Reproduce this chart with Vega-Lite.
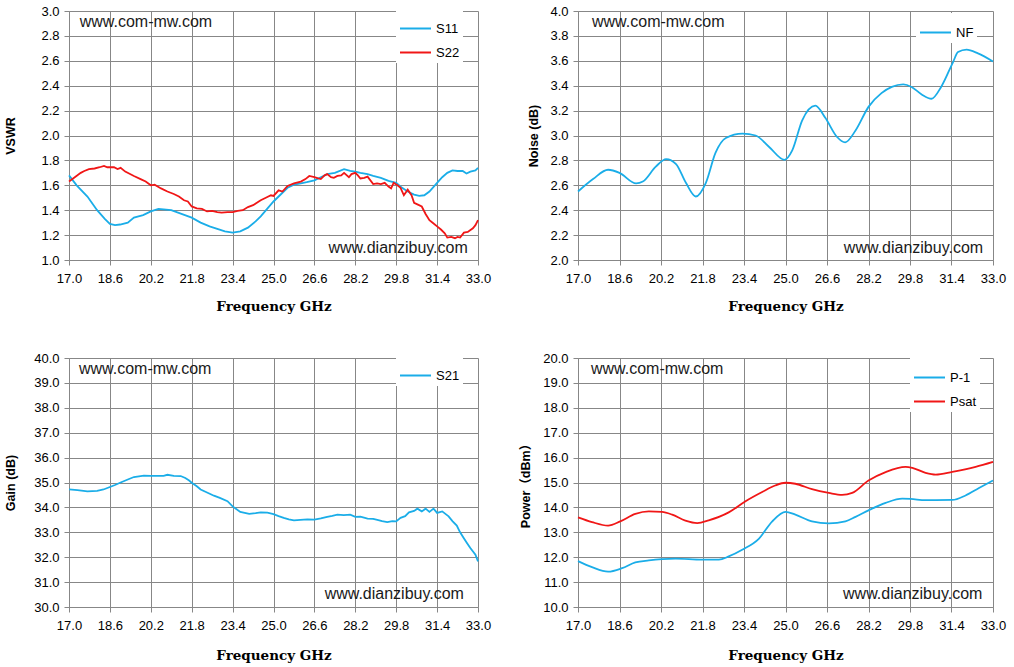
{
  "$schema": "https://vega.github.io/schema/vega-lite/v6.json",
  "padding": {"left": 4, "top": 5, "right": 4, "bottom": 2},
  "background": "white",
  "columns": 2,
  "spacing": {"row": 39, "column": 28},
  "resolve": {"scale": {"color": "independent"}, "legend": {"color": "independent"}},
  "config": {
    "view": {"stroke": null},
    "axis": {
      "gridColor": "#878787",
      "gridOpacity": 1,
      "gridWidth": 1,
      "domainColor": "#878787",
      "tickColor": "#878787",
      "tickSize": 5,
      "tickCount": 12,
      "labelFont": "Liberation Sans",
      "labelFontSize": 13,
      "labelColor": "#000000",
      "labelOverlap": false,
      "labelFlush": false,
      "titleColor": "#000000"
    },
    "axisX": {
      "labelPadding": 7,
      "titleFont": "DejaVu Serif",
      "titleFontSize": 13.5,
      "titleFontWeight": "bold",
      "titlePadding": 14
    },
    "axisY": {
      "labelPadding": 5,
      "titleFont": "Liberation Sans, Noto Sans CJK SC",
      "titleFontSize": 12.5,
      "titleFontWeight": "bold"
    },
    "legend": {
      "orient": "none",
      "title": null,
      "fillColor": "white",
      "padding": 3,
      "symbolType": "stroke",
      "symbolSize": 960,
      "symbolStrokeWidth": 2,
      "labelFont": "Liberation Sans",
      "labelFontSize": 13,
      "labelColor": "#000000",
      "labelOffset": 4,
      "rowPadding": -7
    },
    "text": {"font": "Liberation Sans", "fontSize": 16, "color": "#1a1a1a"}
  },
  "datasets": {
    "vswr": [
      {"f": 17.0, "v": 1.68, "s": "S11"}, {"f": 17.3, "v": 1.6, "s": "S11"}, {"f": 17.72, "v": 1.51, "s": "S11"},
      {"f": 18.1, "v": 1.4, "s": "S11"}, {"f": 18.4, "v": 1.33, "s": "S11"}, {"f": 18.6, "v": 1.29, "s": "S11"},
      {"f": 18.8, "v": 1.28, "s": "S11"}, {"f": 19.0, "v": 1.285, "s": "S11"}, {"f": 19.3, "v": 1.3, "s": "S11"},
      {"f": 19.54, "v": 1.34, "s": "S11"}, {"f": 19.9, "v": 1.36, "s": "S11"}, {"f": 20.2, "v": 1.39, "s": "S11"},
      {"f": 20.5, "v": 1.41, "s": "S11"}, {"f": 20.8, "v": 1.405, "s": "S11"}, {"f": 21.0, "v": 1.4, "s": "S11"},
      {"f": 21.4, "v": 1.37, "s": "S11"}, {"f": 21.8, "v": 1.34, "s": "S11"}, {"f": 22.15, "v": 1.3, "s": "S11"},
      {"f": 22.5, "v": 1.27, "s": "S11"}, {"f": 22.8, "v": 1.25, "s": "S11"}, {"f": 23.1, "v": 1.23, "s": "S11"},
      {"f": 23.4, "v": 1.22, "s": "S11"}, {"f": 23.7, "v": 1.23, "s": "S11"}, {"f": 24.0, "v": 1.26, "s": "S11"},
      {"f": 24.3, "v": 1.31, "s": "S11"}, {"f": 24.5, "v": 1.35, "s": "S11"}, {"f": 24.75, "v": 1.41, "s": "S11"},
      {"f": 25.0, "v": 1.47, "s": "S11"}, {"f": 25.3, "v": 1.53, "s": "S11"}, {"f": 25.55, "v": 1.58, "s": "S11"},
      {"f": 25.8, "v": 1.605, "s": "S11"}, {"f": 26.07, "v": 1.615, "s": "S11"}, {"f": 26.3, "v": 1.625, "s": "S11"},
      {"f": 26.6, "v": 1.64, "s": "S11"}, {"f": 26.85, "v": 1.665, "s": "S11"}, {"f": 27.1, "v": 1.69, "s": "S11"},
      {"f": 27.4, "v": 1.7, "s": "S11"}, {"f": 27.76, "v": 1.73, "s": "S11"}, {"f": 28.0, "v": 1.715, "s": "S11"},
      {"f": 28.2, "v": 1.71, "s": "S11"}, {"f": 28.4, "v": 1.7, "s": "S11"}, {"f": 28.68, "v": 1.69, "s": "S11"},
      {"f": 28.9, "v": 1.675, "s": "S11"}, {"f": 29.2, "v": 1.66, "s": "S11"}, {"f": 29.5, "v": 1.635, "s": "S11"},
      {"f": 29.8, "v": 1.62, "s": "S11"}, {"f": 30.0, "v": 1.585, "s": "S11"}, {"f": 30.25, "v": 1.55, "s": "S11"},
      {"f": 30.5, "v": 1.525, "s": "S11"}, {"f": 30.7, "v": 1.515, "s": "S11"}, {"f": 30.9, "v": 1.52, "s": "S11"},
      {"f": 31.1, "v": 1.55, "s": "S11"}, {"f": 31.4, "v": 1.62, "s": "S11"}, {"f": 31.6, "v": 1.665, "s": "S11"},
      {"f": 31.8, "v": 1.7, "s": "S11"}, {"f": 32.0, "v": 1.72, "s": "S11"}, {"f": 32.2, "v": 1.715, "s": "S11"},
      {"f": 32.4, "v": 1.715, "s": "S11"}, {"f": 32.55, "v": 1.695, "s": "S11"}, {"f": 32.7, "v": 1.71, "s": "S11"},
      {"f": 32.9, "v": 1.72, "s": "S11"}, {"f": 33.0, "v": 1.74, "s": "S11"},
      {"f": 17.0, "v": 1.63, "s": "S22"}, {"f": 17.2, "v": 1.66, "s": "S22"}, {"f": 17.46, "v": 1.7, "s": "S22"},
      {"f": 17.6, "v": 1.715, "s": "S22"}, {"f": 17.78, "v": 1.73, "s": "S22"}, {"f": 18.0, "v": 1.735, "s": "S22"},
      {"f": 18.2, "v": 1.745, "s": "S22"}, {"f": 18.37, "v": 1.755, "s": "S22"}, {"f": 18.5, "v": 1.745, "s": "S22"},
      {"f": 18.76, "v": 1.745, "s": "S22"}, {"f": 18.9, "v": 1.73, "s": "S22"}, {"f": 19.02, "v": 1.74, "s": "S22"},
      {"f": 19.2, "v": 1.71, "s": "S22"}, {"f": 19.54, "v": 1.675, "s": "S22"}, {"f": 19.8, "v": 1.65, "s": "S22"},
      {"f": 20.0, "v": 1.63, "s": "S22"}, {"f": 20.2, "v": 1.6, "s": "S22"}, {"f": 20.35, "v": 1.605, "s": "S22"},
      {"f": 20.6, "v": 1.575, "s": "S22"}, {"f": 20.85, "v": 1.55, "s": "S22"}, {"f": 21.1, "v": 1.53, "s": "S22"},
      {"f": 21.3, "v": 1.51, "s": "S22"}, {"f": 21.5, "v": 1.48, "s": "S22"}, {"f": 21.65, "v": 1.47, "s": "S22"},
      {"f": 21.8, "v": 1.43, "s": "S22"}, {"f": 22.0, "v": 1.415, "s": "S22"}, {"f": 22.2, "v": 1.41, "s": "S22"},
      {"f": 22.4, "v": 1.39, "s": "S22"}, {"f": 22.6, "v": 1.395, "s": "S22"}, {"f": 22.8, "v": 1.385, "s": "S22"},
      {"f": 22.97, "v": 1.38, "s": "S22"}, {"f": 23.2, "v": 1.385, "s": "S22"}, {"f": 23.4, "v": 1.385, "s": "S22"},
      {"f": 23.6, "v": 1.395, "s": "S22"}, {"f": 23.8, "v": 1.4, "s": "S22"}, {"f": 24.0, "v": 1.425, "s": "S22"},
      {"f": 24.2, "v": 1.44, "s": "S22"}, {"f": 24.35, "v": 1.46, "s": "S22"}, {"f": 24.5, "v": 1.48, "s": "S22"},
      {"f": 24.7, "v": 1.5, "s": "S22"}, {"f": 24.9, "v": 1.52, "s": "S22"}, {"f": 25.0, "v": 1.515, "s": "S22"},
      {"f": 25.2, "v": 1.56, "s": "S22"}, {"f": 25.35, "v": 1.55, "s": "S22"}, {"f": 25.55, "v": 1.595, "s": "S22"},
      {"f": 25.8, "v": 1.615, "s": "S22"}, {"f": 26.07, "v": 1.63, "s": "S22"}, {"f": 26.25, "v": 1.65, "s": "S22"},
      {"f": 26.4, "v": 1.675, "s": "S22"}, {"f": 26.6, "v": 1.665, "s": "S22"}, {"f": 26.75, "v": 1.655, "s": "S22"},
      {"f": 26.85, "v": 1.65, "s": "S22"}, {"f": 27.0, "v": 1.68, "s": "S22"}, {"f": 27.1, "v": 1.69, "s": "S22"},
      {"f": 27.25, "v": 1.665, "s": "S22"}, {"f": 27.36, "v": 1.66, "s": "S22"}, {"f": 27.5, "v": 1.675, "s": "S22"},
      {"f": 27.65, "v": 1.68, "s": "S22"}, {"f": 27.76, "v": 1.7, "s": "S22"}, {"f": 27.95, "v": 1.665, "s": "S22"},
      {"f": 28.05, "v": 1.69, "s": "S22"}, {"f": 28.2, "v": 1.7, "s": "S22"}, {"f": 28.3, "v": 1.68, "s": "S22"},
      {"f": 28.4, "v": 1.655, "s": "S22"}, {"f": 28.55, "v": 1.66, "s": "S22"}, {"f": 28.68, "v": 1.67, "s": "S22"},
      {"f": 28.9, "v": 1.61, "s": "S22"}, {"f": 29.05, "v": 1.615, "s": "S22"}, {"f": 29.2, "v": 1.61, "s": "S22"},
      {"f": 29.35, "v": 1.62, "s": "S22"}, {"f": 29.5, "v": 1.59, "s": "S22"}, {"f": 29.6, "v": 1.575, "s": "S22"},
      {"f": 29.7, "v": 1.62, "s": "S22"}, {"f": 29.85, "v": 1.6, "s": "S22"}, {"f": 29.97, "v": 1.58, "s": "S22"},
      {"f": 30.1, "v": 1.52, "s": "S22"}, {"f": 30.25, "v": 1.565, "s": "S22"}, {"f": 30.4, "v": 1.52, "s": "S22"},
      {"f": 30.5, "v": 1.46, "s": "S22"}, {"f": 30.65, "v": 1.445, "s": "S22"}, {"f": 30.8, "v": 1.43, "s": "S22"},
      {"f": 30.95, "v": 1.37, "s": "S22"}, {"f": 31.1, "v": 1.32, "s": "S22"}, {"f": 31.25, "v": 1.295, "s": "S22"},
      {"f": 31.4, "v": 1.27, "s": "S22"}, {"f": 31.55, "v": 1.245, "s": "S22"}, {"f": 31.7, "v": 1.215, "s": "S22"},
      {"f": 31.8, "v": 1.18, "s": "S22"}, {"f": 31.95, "v": 1.185, "s": "S22"}, {"f": 32.1, "v": 1.175, "s": "S22"},
      {"f": 32.2, "v": 1.185, "s": "S22"}, {"f": 32.3, "v": 1.18, "s": "S22"}, {"f": 32.45, "v": 1.22, "s": "S22"},
      {"f": 32.6, "v": 1.225, "s": "S22"}, {"f": 32.8, "v": 1.255, "s": "S22"}, {"f": 32.9, "v": 1.28, "s": "S22"},
      {"f": 33.0, "v": 1.32, "s": "S22"}
    ],
    "nf": [
      {"f": 17.0, "v": 2.55, "s": "NF"}, {"f": 17.58, "v": 2.65, "s": "NF"}, {"f": 18.16, "v": 2.725, "s": "NF"},
      {"f": 18.6, "v": 2.7, "s": "NF"}, {"f": 19.24, "v": 2.615, "s": "NF"}, {"f": 19.5, "v": 2.63, "s": "NF"},
      {"f": 20.0, "v": 2.75, "s": "NF"}, {"f": 20.4, "v": 2.81, "s": "NF"}, {"f": 20.78, "v": 2.77, "s": "NF"},
      {"f": 21.16, "v": 2.62, "s": "NF"}, {"f": 21.54, "v": 2.51, "s": "NF"}, {"f": 21.93, "v": 2.62, "s": "NF"},
      {"f": 22.3, "v": 2.86, "s": "NF"}, {"f": 22.7, "v": 2.98, "s": "NF"}, {"f": 23.34, "v": 3.015, "s": "NF"},
      {"f": 23.85, "v": 3.0, "s": "NF"}, {"f": 24.36, "v": 2.91, "s": "NF"}, {"f": 24.96, "v": 2.805, "s": "NF"},
      {"f": 25.26, "v": 2.88, "s": "NF"}, {"f": 25.64, "v": 3.12, "s": "NF"}, {"f": 26.15, "v": 3.24, "s": "NF"},
      {"f": 26.54, "v": 3.14, "s": "NF"}, {"f": 26.98, "v": 2.99, "s": "NF"}, {"f": 27.3, "v": 2.945, "s": "NF"},
      {"f": 27.7, "v": 3.04, "s": "NF"}, {"f": 28.2, "v": 3.23, "s": "NF"}, {"f": 28.7, "v": 3.34, "s": "NF"},
      {"f": 29.1, "v": 3.39, "s": "NF"}, {"f": 29.54, "v": 3.41, "s": "NF"}, {"f": 29.86, "v": 3.39, "s": "NF"},
      {"f": 30.25, "v": 3.33, "s": "NF"}, {"f": 30.63, "v": 3.295, "s": "NF"}, {"f": 31.0, "v": 3.39, "s": "NF"},
      {"f": 31.46, "v": 3.59, "s": "NF"}, {"f": 31.65, "v": 3.67, "s": "NF"}, {"f": 31.98, "v": 3.69, "s": "NF"},
      {"f": 32.42, "v": 3.66, "s": "NF"}, {"f": 33.0, "v": 3.595, "s": "NF"}
    ],
    "gain": [
      {"f": 17.0, "v": 34.72, "s": "S21"}, {"f": 17.33, "v": 34.69, "s": "S21"}, {"f": 17.72, "v": 34.64, "s": "S21"},
      {"f": 18.1, "v": 34.66, "s": "S21"}, {"f": 18.35, "v": 34.72, "s": "S21"}, {"f": 18.6, "v": 34.82, "s": "S21"},
      {"f": 18.8, "v": 34.9, "s": "S21"}, {"f": 19.02, "v": 35.0, "s": "S21"}, {"f": 19.3, "v": 35.12, "s": "S21"},
      {"f": 19.54, "v": 35.22, "s": "S21"}, {"f": 19.93, "v": 35.28, "s": "S21"}, {"f": 20.2, "v": 35.27, "s": "S21"},
      {"f": 20.45, "v": 35.27, "s": "S21"}, {"f": 20.7, "v": 35.27, "s": "S21"}, {"f": 20.85, "v": 35.31, "s": "S21"},
      {"f": 21.1, "v": 35.27, "s": "S21"}, {"f": 21.37, "v": 35.26, "s": "S21"}, {"f": 21.55, "v": 35.18, "s": "S21"},
      {"f": 21.7, "v": 35.08, "s": "S21"}, {"f": 21.8, "v": 34.99, "s": "S21"}, {"f": 22.0, "v": 34.85, "s": "S21"},
      {"f": 22.15, "v": 34.72, "s": "S21"}, {"f": 22.4, "v": 34.6, "s": "S21"}, {"f": 22.67, "v": 34.47, "s": "S21"},
      {"f": 22.9, "v": 34.38, "s": "S21"}, {"f": 23.2, "v": 34.25, "s": "S21"}, {"f": 23.4, "v": 34.04, "s": "S21"},
      {"f": 23.7, "v": 33.82, "s": "S21"}, {"f": 24.05, "v": 33.74, "s": "S21"}, {"f": 24.3, "v": 33.77, "s": "S21"},
      {"f": 24.5, "v": 33.8, "s": "S21"}, {"f": 24.76, "v": 33.79, "s": "S21"}, {"f": 25.0, "v": 33.73, "s": "S21"},
      {"f": 25.2, "v": 33.65, "s": "S21"}, {"f": 25.4, "v": 33.58, "s": "S21"}, {"f": 25.6, "v": 33.52, "s": "S21"},
      {"f": 25.8, "v": 33.48, "s": "S21"}, {"f": 26.05, "v": 33.5, "s": "S21"}, {"f": 26.33, "v": 33.52, "s": "S21"},
      {"f": 26.6, "v": 33.51, "s": "S21"}, {"f": 26.85, "v": 33.56, "s": "S21"}, {"f": 27.1, "v": 33.62, "s": "S21"},
      {"f": 27.3, "v": 33.66, "s": "S21"}, {"f": 27.5, "v": 33.71, "s": "S21"}, {"f": 27.75, "v": 33.69, "s": "S21"},
      {"f": 28.0, "v": 33.71, "s": "S21"}, {"f": 28.2, "v": 33.62, "s": "S21"}, {"f": 28.4, "v": 33.63, "s": "S21"},
      {"f": 28.68, "v": 33.55, "s": "S21"}, {"f": 28.9, "v": 33.54, "s": "S21"}, {"f": 29.06, "v": 33.5, "s": "S21"},
      {"f": 29.25, "v": 33.45, "s": "S21"}, {"f": 29.45, "v": 33.41, "s": "S21"}, {"f": 29.65, "v": 33.45, "s": "S21"},
      {"f": 29.8, "v": 33.44, "s": "S21"}, {"f": 29.97, "v": 33.58, "s": "S21"}, {"f": 30.15, "v": 33.65, "s": "S21"},
      {"f": 30.3, "v": 33.8, "s": "S21"}, {"f": 30.5, "v": 33.86, "s": "S21"}, {"f": 30.63, "v": 33.95, "s": "S21"},
      {"f": 30.8, "v": 33.84, "s": "S21"}, {"f": 30.95, "v": 33.95, "s": "S21"}, {"f": 31.1, "v": 33.82, "s": "S21"},
      {"f": 31.26, "v": 33.95, "s": "S21"}, {"f": 31.4, "v": 33.78, "s": "S21"}, {"f": 31.6, "v": 33.84, "s": "S21"},
      {"f": 31.85, "v": 33.64, "s": "S21"}, {"f": 32.0, "v": 33.45, "s": "S21"}, {"f": 32.17, "v": 33.27, "s": "S21"},
      {"f": 32.3, "v": 33.0, "s": "S21"}, {"f": 32.44, "v": 32.77, "s": "S21"}, {"f": 32.58, "v": 32.55, "s": "S21"},
      {"f": 32.7, "v": 32.37, "s": "S21"}, {"f": 32.9, "v": 32.1, "s": "S21"}, {"f": 33.0, "v": 31.83, "s": "S21"}
    ],
    "power": [
      {"f": 17.0, "v": 11.84, "s": "P-1"}, {"f": 17.54, "v": 11.6, "s": "P-1"}, {"f": 18.16, "v": 11.42, "s": "P-1"},
      {"f": 18.7, "v": 11.56, "s": "P-1"}, {"f": 19.21, "v": 11.79, "s": "P-1"}, {"f": 19.73, "v": 11.87, "s": "P-1"},
      {"f": 20.24, "v": 11.92, "s": "P-1"}, {"f": 20.76, "v": 11.94, "s": "P-1"}, {"f": 21.78, "v": 11.9, "s": "P-1"},
      {"f": 22.43, "v": 11.9, "s": "P-1"}, {"f": 22.81, "v": 12.03, "s": "P-1"}, {"f": 23.33, "v": 12.3, "s": "P-1"},
      {"f": 23.97, "v": 12.74, "s": "P-1"}, {"f": 24.49, "v": 13.44, "s": "P-1"}, {"f": 25.0, "v": 13.82, "s": "P-1"},
      {"f": 25.38, "v": 13.71, "s": "P-1"}, {"f": 26.02, "v": 13.44, "s": "P-1"}, {"f": 26.67, "v": 13.36, "s": "P-1"},
      {"f": 27.31, "v": 13.44, "s": "P-1"}, {"f": 27.7, "v": 13.62, "s": "P-1"}, {"f": 28.2, "v": 13.88, "s": "P-1"},
      {"f": 28.86, "v": 14.18, "s": "P-1"}, {"f": 29.5, "v": 14.35, "s": "P-1"}, {"f": 29.82, "v": 14.34, "s": "P-1"},
      {"f": 30.4, "v": 14.29, "s": "P-1"}, {"f": 31.43, "v": 14.3, "s": "P-1"}, {"f": 31.94, "v": 14.48, "s": "P-1"},
      {"f": 32.46, "v": 14.78, "s": "P-1"}, {"f": 33.0, "v": 15.08, "s": "P-1"},
      {"f": 17.0, "v": 13.6, "s": "Psat"}, {"f": 17.54, "v": 13.41, "s": "Psat"}, {"f": 18.16, "v": 13.27, "s": "Psat"},
      {"f": 18.63, "v": 13.44, "s": "Psat"}, {"f": 19.21, "v": 13.74, "s": "Psat"}, {"f": 19.73, "v": 13.84, "s": "Psat"},
      {"f": 20.24, "v": 13.82, "s": "Psat"}, {"f": 20.63, "v": 13.71, "s": "Psat"}, {"f": 21.14, "v": 13.47, "s": "Psat"},
      {"f": 21.6, "v": 13.37, "s": "Psat"}, {"f": 22.04, "v": 13.48, "s": "Psat"}, {"f": 22.81, "v": 13.8, "s": "Psat"},
      {"f": 23.46, "v": 14.25, "s": "Psat"}, {"f": 24.1, "v": 14.62, "s": "Psat"}, {"f": 24.6, "v": 14.88, "s": "Psat"},
      {"f": 25.0, "v": 14.99, "s": "Psat"}, {"f": 25.38, "v": 14.95, "s": "Psat"}, {"f": 26.02, "v": 14.73, "s": "Psat"},
      {"f": 26.67, "v": 14.58, "s": "Psat"}, {"f": 27.18, "v": 14.5, "s": "Psat"}, {"f": 27.57, "v": 14.58, "s": "Psat"},
      {"f": 28.2, "v": 15.08, "s": "Psat"}, {"f": 28.86, "v": 15.42, "s": "Psat"}, {"f": 29.63, "v": 15.63, "s": "Psat"},
      {"f": 29.89, "v": 15.59, "s": "Psat"}, {"f": 30.4, "v": 15.39, "s": "Psat"}, {"f": 30.79, "v": 15.32, "s": "Psat"},
      {"f": 31.43, "v": 15.43, "s": "Psat"}, {"f": 32.33, "v": 15.63, "s": "Psat"}, {"f": 33.0, "v": 15.83, "s": "Psat"}
    ]
  },
  "concat": [
    {
      "width": 409,
      "height": 249,
      "layer": [
        {
          "data": {"name": "vswr"},
          "mark": {"type": "line", "strokeWidth": 1.8},
          "encoding": {
            "x": {"field": "f", "type": "quantitative", "title": "Frequency GHz",
                  "scale": {"domain": [17, 33], "nice": false, "zero": false},
                  "axis": {"values": [17, 18.6, 20.2, 21.8, 23.4, 25, 26.6, 28.2, 29.8, 31.4, 33], "format": ".1f", "tickCount": 12}},
            "y": {"field": "v", "type": "quantitative", "title": "VSWR",
                  "scale": {"domain": [1, 3], "nice": false, "zero": false},
                  "axis": {"values": [1, 1.2, 1.4, 1.6, 1.8, 2, 2.2, 2.4, 2.6, 2.8, 3], "format": ".1f", "tickCount": 12, "titlePadding": 23}},
            "color": {"field": "s", "type": "nominal",
                      "scale": {"domain": ["S11", "S22"], "range": ["#1aade8", "#f01616"]},
                      "legend": {"legendX": 327, "legendY": -2}}
          }
        },
        {
          "data": {"values": [{"t": "www.com-mw.com"}]},
          "mark": {"type": "text", "align": "left", "baseline": "middle"},
          "encoding": {"x": {"datum": 17.42, "type": "quantitative"}, "y": {"datum": 2.91, "type": "quantitative"}, "text": {"field": "t"}}
        },
        {
          "data": {"values": [{"t": "www.dianzibuy.com"}]},
          "mark": {"type": "text", "align": "right", "baseline": "middle"},
          "encoding": {"x": {"datum": 32.6, "type": "quantitative"}, "y": {"datum": 1.1, "type": "quantitative"}, "text": {"field": "t"}}
        }
      ]
    },
    {
      "width": 415,
      "height": 249,
      "layer": [
        {
          "data": {"name": "nf"},
          "mark": {"type": "line", "strokeWidth": 1.8, "interpolate": "monotone"},
          "encoding": {
            "x": {"field": "f", "type": "quantitative", "title": "Frequency GHz",
                  "scale": {"domain": [17, 33], "nice": false, "zero": false},
                  "axis": {"values": [17, 18.6, 20.2, 21.8, 23.4, 25, 26.6, 28.2, 29.8, 31.4, 33], "format": ".1f", "tickCount": 12}},
            "y": {"field": "v", "type": "quantitative", "title": "Noise (dB)",
                  "scale": {"domain": [2, 4], "nice": false, "zero": false},
                  "axis": {"values": [2, 2.2, 2.4, 2.6, 2.8, 3, 3.2, 3.4, 3.6, 3.8, 4], "format": ".1f", "tickCount": 12, "titlePadding": 9}},
            "color": {"field": "s", "type": "nominal",
                      "scale": {"domain": ["NF"], "range": ["#1aade8"]},
                      "legend": {"legendX": 338, "legendY": 2}}
          }
        },
        {
          "data": {"values": [{"t": "www.com-mw.com"}]},
          "mark": {"type": "text", "align": "left", "baseline": "middle"},
          "encoding": {"x": {"datum": 17.54, "type": "quantitative"}, "y": {"datum": 3.914, "type": "quantitative"}, "text": {"field": "t"}}
        },
        {
          "data": {"values": [{"t": "www.dianzibuy.com"}]},
          "mark": {"type": "text", "align": "right", "baseline": "middle"},
          "encoding": {"x": {"datum": 32.62, "type": "quantitative"}, "y": {"datum": 2.1, "type": "quantitative"}, "text": {"field": "t"}}
        }
      ]
    },
    {
      "width": 409,
      "height": 249,
      "layer": [
        {
          "data": {"name": "gain"},
          "mark": {"type": "line", "strokeWidth": 1.8},
          "encoding": {
            "x": {"field": "f", "type": "quantitative", "title": "Frequency GHz",
                  "scale": {"domain": [17, 33], "nice": false, "zero": false},
                  "axis": {"values": [17, 18.6, 20.2, 21.8, 23.4, 25, 26.6, 28.2, 29.8, 31.4, 33], "format": ".1f", "tickCount": 12, "titlePadding": 16}},
            "y": {"field": "v", "type": "quantitative", "title": "Gain (dB)",
                  "scale": {"domain": [30, 40], "nice": false, "zero": false},
                  "axis": {"values": [30, 31, 32, 33, 34, 35, 36, 37, 38, 39, 40], "format": ".1f", "tickCount": 12, "titlePadding": 16}},
            "color": {"field": "s", "type": "nominal",
                      "scale": {"domain": ["S21"], "range": ["#1aade8"]},
                      "legend": {"legendX": 327, "legendY": -2}}
          }
        },
        {
          "data": {"values": [{"t": "www.com-mw.com"}]},
          "mark": {"type": "text", "align": "left", "baseline": "middle"},
          "encoding": {"x": {"datum": 17.39, "type": "quantitative"}, "y": {"datum": 39.56, "type": "quantitative"}, "text": {"field": "t"}}
        },
        {
          "data": {"values": [{"t": "www.dianzibuy.com"}]},
          "mark": {"type": "text", "align": "right", "baseline": "middle"},
          "encoding": {"x": {"datum": 32.45, "type": "quantitative"}, "y": {"datum": 30.52, "type": "quantitative"}, "text": {"field": "t"}}
        }
      ]
    },
    {
      "width": 415,
      "height": 249,
      "layer": [
        {
          "data": {"name": "power"},
          "mark": {"type": "line", "strokeWidth": 1.8, "interpolate": "monotone"},
          "encoding": {
            "x": {"field": "f", "type": "quantitative", "title": "Frequency GHz",
                  "scale": {"domain": [17, 33], "nice": false, "zero": false},
                  "axis": {"values": [17, 18.6, 20.2, 21.8, 23.4, 25, 26.6, 28.2, 29.8, 31.4, 33], "format": ".1f", "tickCount": 12, "titlePadding": 16}},
            "y": {"field": "v", "type": "quantitative", "title": "Power（dBm）",
                  "scale": {"domain": [10, 20], "nice": false, "zero": false},
                  "axis": {"values": [10, 11, 12, 13, 14, 15, 16, 17, 18, 19, 20], "format": ".1f", "tickCount": 12, "titlePadding": 10}},
            "color": {"field": "s", "type": "nominal",
                      "scale": {"domain": ["P-1", "Psat"], "range": ["#1aade8", "#f01616"]},
                      "legend": {"legendX": 332, "legendY": 0}}
          }
        },
        {
          "data": {"values": [{"t": "www.com-mw.com"}]},
          "mark": {"type": "text", "align": "left", "baseline": "middle"},
          "encoding": {"x": {"datum": 17.5, "type": "quantitative"}, "y": {"datum": 19.56, "type": "quantitative"}, "text": {"field": "t"}}
        },
        {
          "data": {"values": [{"t": "www.dianzibuy.com"}]},
          "mark": {"type": "text", "align": "right", "baseline": "middle"},
          "encoding": {"x": {"datum": 32.59, "type": "quantitative"}, "y": {"datum": 10.52, "type": "quantitative"}, "text": {"field": "t"}}
        }
      ]
    }
  ]
}
